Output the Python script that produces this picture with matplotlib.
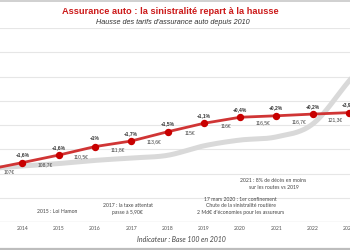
import numpy as np
import matplotlib
matplotlib.use("Agg")
import matplotlib.pyplot as plt
from matplotlib.lines import Line2D

# ---------------- data ----------------
years = [2013, 2014, 2015, 2016, 2017, 2018, 2019, 2020, 2021, 2022, 2023]
tarif_index = [2.15, 2.45, 2.76, 3.11, 3.34, 3.72, 4.07, 4.32, 4.38, 4.45, 4.51]
pct_labels = ["", "+1,6%", "+1,6%", "+1%", "+1,7%", "+1,5%", "+1,1%",
              "+0,4%", "+0,2%", "+0,2%", "+3,9%"]
euro_labels = ["107€", "108,7€", "110,5€", "111,8€", "113,6€", "115€",
               "116€", "116,5€", "116,7€", "121,3€", ""]
sinistre_years = [2013, 2014, 2015, 2016, 2017, 2018, 2019, 2020, 2021, 2022, 2023, 2024]
sinistre_index = [2.19, 2.31, 2.41, 2.54, 2.64, 2.75, 3.14, 3.38, 3.51, 4.04, 5.81, 7.6]
tick_years = [2014, 2015, 2016, 2017, 2018, 2019, 2020, 2021, 2022, 2023]

events = [
    (2014.95, 0.45, "2015 : Loi Hamon"),
    (2016.90, 0.52, "2017 : la taxe attentat\npasse à 5,90€"),
    (2020.02, 0.66, "17 mars 2020 : 1er confinement\nChute de la sinistralité routière\n2 Md€ d'économies pour les assureurs"),
    (2020.92, 1.57, "2021 : 8% de décès en moins\nsur les routes vs 2019"),
]

title = "Assurance auto : la sinistralité repart à la hausse"
subtitle = "Hausse des tarifs d'assurance auto depuis 2010"
footer = "Indicateur : Base 100 en 2010"


def catmull_rom(x, y, n=30):
    x = np.asarray(x, float)
    y = np.asarray(y, float)
    xs, ys = [], []
    for i in range(len(x) - 1):
        y0 = y[i - 1] if i > 0 else 2 * y[i] - y[i + 1]
        y3 = y[i + 2] if i + 2 < len(y) else 2 * y[i + 1] - y[i]
        t = np.linspace(0, 1, n, endpoint=False)
        p = 0.5 * ((2 * y[i]) + (-y0 + y[i + 1]) * t
                   + (2 * y0 - 5 * y[i] + 4 * y[i + 1] - y3) * t ** 2
                   + (-y0 + 3 * y[i] - 3 * y[i + 1] + y3) * t ** 3)
        xs.append(x[i] + t * (x[i + 1] - x[i]))
        ys.append(p)
    xs.append([x[-1]])
    ys.append([y[-1]])
    return np.concatenate(xs), np.concatenate(ys)


plt.rcParams['font.family'] = ['Liberation Sans', 'DejaVu Sans']

fig = plt.figure(figsize=(3.5, 2.5), dpi=100)
fig.patch.set_facecolor("white")

ax = fig.add_axes([0, 0.112, 1, 0.776])
ax.set_xlim(2013.38, 2023.03)
ax.set_ylim(0, 8)

# grid
for g in range(1, 9):
    ax.axhline(g, color="#e6e6e6", lw=0.8, zorder=0)
ax.axhline(0, color="#c8c8c8", lw=0.9, zorder=1)

# grey smooth line
sx, sy = catmull_rom(sinistre_years, sinistre_index)
ax.plot(sx, sy, color="#d9d9d9", lw=3.6, solid_capstyle="round", zorder=2)

# red line
ax.plot(years, tarif_index, color="#d03535", lw=2.0, zorder=3,
        marker="o", markersize=4.3, markerfacecolor="#c80000",
        markeredgecolor="#c80000")

for yr, v, lab in zip(years, tarif_index, pct_labels):
    if lab:
        ax.annotate(lab, (yr, v), xytext=(0, 5.6), textcoords="offset points",
                    ha="center", va="center", fontsize=3.6, fontweight="bold",
                    color="#333333", zorder=5)

for yr, lab in zip(years, euro_labels):
    if lab:
        xl = yr + 0.62
        yl = np.interp(xl, years, tarif_index)
        ax.annotate(lab, (xl, yl), xytext=(0, -4.8), textcoords="offset points",
                    ha="center", va="center", fontsize=3.6, color="#444444",
                    zorder=5)

for ex, ey, txt in events:
    ax.text(ex, ey, txt, ha="center", va="center", fontsize=3.7,
            family=["Lato", "DejaVu Sans"], color="#444444",
            linespacing=1.45, zorder=5)

ax.set_xticks(tick_years)
ax.set_xticklabels([str(t) for t in tick_years], fontsize=3.7,
                   family="Lato", color="#555555")
ax.tick_params(axis="x", length=0, pad=3)
ax.set_yticks([])
for s in ax.spines.values():
    s.set_visible(False)
ax.patch.set_alpha(0)

fig.text(0.486, 0.956, title, ha="center", va="center", fontsize=6.7,
         fontweight="bold", color="#cc1a1a")
fig.text(0.494, 0.912, subtitle, ha="center", va="center", fontsize=5.2,
         style="italic", color="#333333")
fig.text(0.517, 0.04, footer, ha="center", va="center", fontsize=5.0,
         family="Lato", style="italic", color="#444444")

fig.add_artist(Line2D([0, 1], [0.998, 0.998], transform=fig.transFigure,
                      color="#c8c8c8", lw=1.2))
fig.add_artist(Line2D([0, 1], [0.006, 0.006], transform=fig.transFigure,
                      color="#bdbdbd", lw=1.6))

fig.savefig("out.png", dpi=100, facecolor="white")
